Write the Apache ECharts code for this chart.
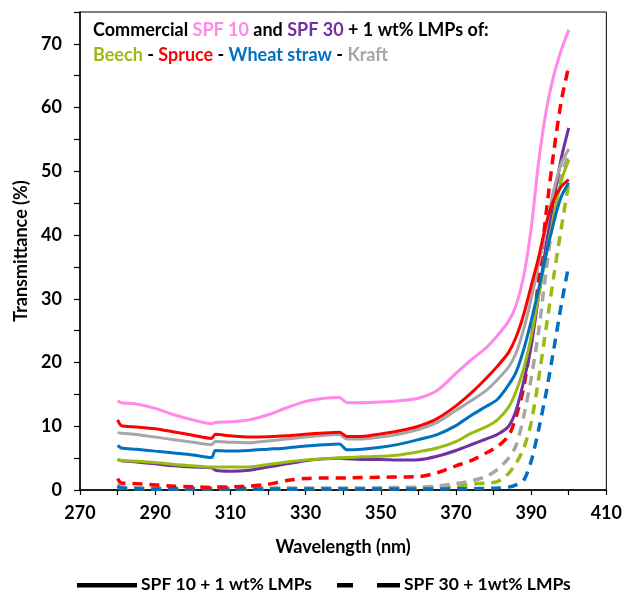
<!DOCTYPE html>
<html>
<head>
<meta charset="utf-8">
<script src="https://cdn.jsdelivr.net/npm/echarts@6/dist/echarts.min.js"></script>
<style>html,body{margin:0;padding:0;background:#fff;}#c{width:625px;height:596px;}</style>
</head>
<body>
<div id="c"></div>
<script>
const wavelength = [280,281,285,290,295,300,305,306,310,315,320,325,330,335,339,341,345,350,355,360,365,370,374,378,381,384,386,388,390,392,394,396,398,400];

const commercialSPF10 = [14.0,13.7,13.5,12.8,11.8,11.0,10.4,10.6,10.7,11.0,11.8,12.9,13.9,14.4,14.5,13.7,13.7,13.8,14.0,14.4,15.6,18.3,20.4,22.3,24.2,26.5,29.0,33.5,41.0,51.5,59.5,65.0,69.0,72.2];
const commercialSPF30 = [4.8,4.6,4.4,4.1,3.8,3.6,3.5,3.1,2.95,3.1,3.6,4.1,4.6,4.9,5.0,4.9,4.8,4.8,4.7,4.75,5.3,6.2,7.1,8.0,8.7,10.0,12.5,17.0,22.5,30.5,38.5,45.5,52.0,56.8];

const beechSPF10  = [4.8,4.6,4.5,4.3,4.0,3.8,3.6,3.6,3.6,3.6,4.0,4.4,4.7,4.9,5.05,5.1,5.2,5.3,5.5,6.0,6.6,7.6,8.9,9.9,11.0,13.0,15.5,19.0,24.0,30.5,37.0,43.0,48.5,51.8];
const spruceSPF10 = [11.0,10.1,9.9,9.6,9.1,8.6,8.1,8.75,8.5,8.3,8.35,8.5,8.75,8.95,9.05,8.4,8.4,8.8,9.3,10.0,11.2,13.2,15.2,17.5,19.4,21.6,24.0,27.5,32.0,36.5,41.8,45.5,47.6,48.7];
const wheatSPF10  = [7.0,6.6,6.4,6.1,5.8,5.5,5.1,6.2,6.1,6.2,6.4,6.6,6.9,7.1,7.2,6.3,6.4,6.7,7.2,7.9,8.7,10.1,11.7,13.1,14.2,16.5,18.5,22.0,26.5,31.5,37.0,42.0,46.0,48.2];
const kraftSPF10  = [9.0,8.9,8.7,8.3,7.9,7.5,7.1,7.6,7.5,7.4,7.7,8.0,8.3,8.6,8.7,8.0,8.0,8.3,8.8,9.5,10.6,12.5,14.0,15.6,17.3,19.3,21.5,25.2,30.0,35.5,41.2,47.0,51.2,53.5];

const beechSPF30  = [0.4,0.3,0.25,0.2,0.2,0.2,0.2,0.2,0.2,0.2,0.2,0.2,0.2,0.2,0.2,0.2,0.2,0.25,0.25,0.3,0.4,0.6,0.9,1.1,1.3,2.6,4.2,6.5,10.5,17.5,25.5,33.5,41.0,48.2];
const spruceSPF30 = [1.8,1.1,1.0,0.8,0.6,0.5,0.4,0.45,0.5,0.6,0.9,1.5,1.8,1.9,1.9,1.9,1.95,2.0,2.05,2.1,2.7,3.8,4.6,5.8,6.8,8.5,11.5,16.0,23.5,33.0,43.5,53.0,61.0,66.5];
const wheatSPF30  = [0.6,0.3,0.2,0.15,0.15,0.15,0.15,0.15,0.15,0.15,0.15,0.15,0.15,0.15,0.15,0.15,0.15,0.15,0.15,0.15,0.15,0.2,0.2,0.25,0.3,0.45,0.8,1.5,4.5,9.5,15.3,22.0,29.0,35.3];
const kraftSPF30  = [0.9,0.5,0.4,0.3,0.3,0.3,0.3,0.3,0.3,0.3,0.3,0.3,0.3,0.3,0.3,0.3,0.3,0.35,0.4,0.45,0.6,1.0,1.4,2.1,3.2,5.0,7.0,11.5,17.5,25.0,34.5,43.0,49.5,52.5];

const xTicks = [270,290,310,330,350,370,390,410];
const yTicks = [0,10,20,30,40,50,60,70];

const C = {pink:'#FF88E8', purple:'#7030A0', green:'#99BB11', red:'#FF0000', blue:'#0070C0', gray:'#A6A6A6'};
const FONT = 'Lato';
const FS = 18;

function pairs(vals){ return wavelength.map((w,i)=>[w, vals[i]]); }
function line(name, vals, color, dashed){
  return {
    name, type:'line', data: pairs(vals), showSymbol:false, smooth:0.25,
    lineStyle:{color, width: dashed?3.5:3, type: dashed?[10,7]:'solid', cap:'butt'},
    itemStyle:{color}, z: dashed?2:3, animation:false, silent:true
  };
}
function rs(color){ return {color, fontFamily:FONT, fontWeight:'bold', fontSize:FS, lineHeight:25}; }

const chart = echarts.init(document.getElementById('c'), null, {renderer:'canvas'});
chart.setOption({
  animation:false,
  backgroundColor:'#fff',
  title:{
    left:88, top:13,
    text:'{k|Commercial }{p|SPF 10}{k| and }{v|SPF 30}{k| + 1 wt% LMPs of:}\n{g|Beech}{k| - }{r|Spruce}{k| - }{b|Wheat straw}{k| - }{gr|Kraft}',
    textStyle:{
      fontFamily:FONT, fontWeight:'bold', fontSize:FS, lineHeight:25,
      rich:{ k:rs('#000'), p:rs(C.pink), v:rs(C.purple), g:rs(C.green), r:rs(C.red), b:rs(C.blue), gr:rs(C.gray) }
    }
  },
  grid:{left:80, right:16, top:12, bottom:106, show:true, borderColor:'#000', borderWidth:1, containLabel:false},
  xAxis:{
    type:'value', min:270, max:410, interval:10,
    name:'Wavelength (nm)', nameLocation:'middle', nameGap:48,
    nameTextStyle:{fontFamily:FONT, fontWeight:'bold', fontSize:FS, color:'#000'},
    axisLine:{show:true, onZero:false, lineStyle:{color:'#000', width:1.5}},
    axisTick:{show:true, inside:false, length:5, lineStyle:{color:'#000', width:1.2}},
    axisLabel:{margin:14, fontFamily:FONT, fontWeight:'bold', fontSize:FS, color:'#000',
      formatter:v=> xTicks.includes(v) ? String(v) : ''},
    splitLine:{show:false}
  },
  yAxis:{
    type:'value', min:0, max:75, interval:5,
    name:'Transmittance (%)', nameLocation:'middle', nameGap:50,
    nameTextStyle:{fontFamily:FONT, fontWeight:'bold', fontSize:FS, color:'#000'},
    axisLine:{show:true, onZero:false, lineStyle:{color:'#000', width:1.5}},
    axisTick:{show:true, inside:false, length:6, lineStyle:{color:'#000', width:1.2}},
    axisLabel:{margin:18, fontFamily:FONT, fontWeight:'bold', fontSize:FS, color:'#000',
      formatter:v=> yTicks.includes(v) ? String(v) : ''},
    splitLine:{show:false}
  },
  series:[
    line('Beech SPF30', beechSPF30, C.green, true),
    line('Kraft SPF30', kraftSPF30, C.gray, true),
    line('Wheat straw SPF30', wheatSPF30, C.blue, true),
    line('Spruce SPF30', spruceSPF30, C.red, true),
    line('SPF 30', commercialSPF30, C.purple, false),
    line('Beech SPF10', beechSPF10, C.green, false),
    line('Wheat straw SPF10', wheatSPF10, C.blue, false),
    line('Kraft SPF10', kraftSPF10, C.gray, false),
    line('Spruce SPF10', spruceSPF10, C.red, false),
    line('SPF 10', commercialSPF10, C.pink, false)
  ],
  graphic:[
    {type:'rect', shape:{x:77, y:583, width:60, height:4.5}, style:{fill:'#000'}},
    {type:'text', left:141, top:575, style:{text:'SPF 10 + 1 wt% LMPs', fill:'#000', font:'bold 17.5px '+FONT}},
    {type:'rect', shape:{x:337, y:583, width:16, height:4.5}, style:{fill:'#000'}},
    {type:'rect', shape:{x:377, y:583, width:23, height:4.5}, style:{fill:'#000'}},
    {type:'text', left:404, top:575, style:{text:'SPF 30 + 1wt% LMPs', fill:'#000', font:'bold 17.5px '+FONT}}
  ]
});
</script>
</body>
</html>
